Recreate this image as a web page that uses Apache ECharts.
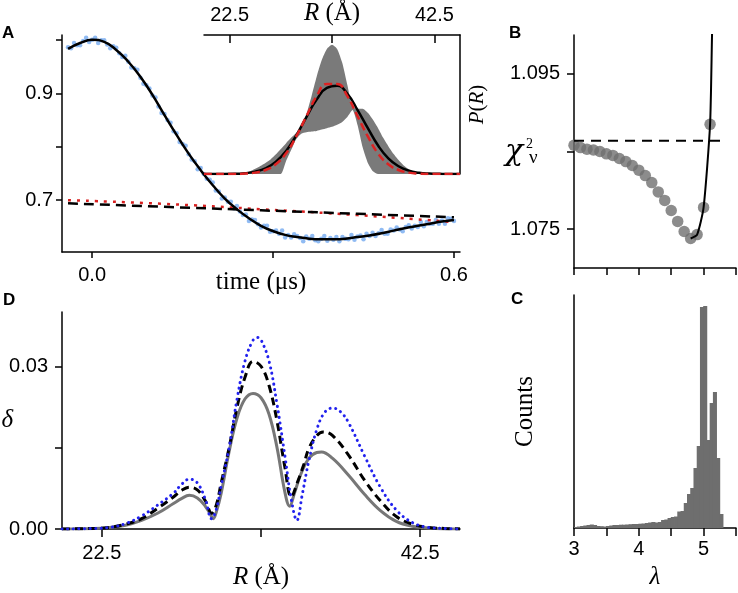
<!DOCTYPE html>
<html>
<head>
<meta charset="utf-8">
<script src="https://cdn.jsdelivr.net/npm/echarts@6/dist/echarts.min.js"></script>
<style>
html, body { margin: 0; padding: 0; background: #fff; }
#main { width: 738px; height: 593px; }
</style>
</head>
<body>
<div id="main"></div>
<script>
// fonts
const sans = "'Liberation Sans', Arial, sans-serif";
const serif = "'Liberation Serif', 'Times New Roman', serif";

// ---- panel A : time trace ----
const traceStart = -0.04, traceStep = 0.005;
const traceSignal = [
  0.986,0.984,0.994,0.990,0.990,0.998,1.004,0.996,1.000,1.004,
  0.994,0.999,0.999,0.991,0.984,0.988,0.985,0.975,0.968,0.970,
  0.959,0.948,0.947,0.944,0.929,0.918,0.915,0.909,0.896,0.892,
  0.875,0.863,0.861,0.850,0.845,0.829,0.825,0.809,0.805,0.802,
  0.786,0.776,0.773,0.758,0.760,0.749,0.740,0.738,0.733,0.718,
  0.716,0.703,0.705,0.697,0.697,0.685,0.689,0.679,0.672,0.673,
  0.661,0.664,0.663,0.655,0.649,0.652,0.652,0.641,0.642,0.643,
  0.637,0.643,0.630,0.635,0.630,0.636,0.633,0.629,0.623,0.632,
  0.628,0.633,0.625,0.623,0.628,0.633,0.624,0.629,0.626,0.631,
  0.623,0.631,0.628,0.627,0.635,0.626,0.632,0.634,0.627,0.637,
  0.633,0.639,0.633,0.638,0.644,0.637,0.637,0.645,0.643,0.649,
  0.645,0.642,0.650,0.653,0.647,0.652,0.650,0.659,0.651,0.659,
  0.656,0.656,0.663,0.656,0.662,0.656,0.666,0.665,0.661
];
const fitStart = -0.04, fitStep = 0.02;
const fitSignal = [0.983,0.994,1.000,0.996,0.981,0.959,0.931,0.897,0.859,0.822,0.787,
  0.756,0.728,0.703,0.683,0.666,0.652,0.642,0.635,0.631,0.628,0.627,0.627,0.628,0.631,
  0.634,0.638,0.643,0.648,0.652,0.656,0.660,0.663];
const bgTime = [-0.04, 0.12, 0.28, 0.44, 0.60];
const bgBlack = [0.694, 0.6875, 0.681, 0.6745, 0.668];
const bgRed = [0.700, 0.693, 0.683, 0.672, 0.659];

// ---- inset : P(R) ----
const bandR0 = 20, bandStep = 0.5;
const bandUpper = [0,0,0,0,0,0,0,0.003,0.008,0.02, 0.037,0.058,0.08,0.105,0.14,0.18,0.22,0.26,0.295,0.33,
  0.43,0.56,0.70,0.82,0.90,0.93,0.90,0.80,0.64,0.48, 0.47,0.47,0.44,0.39,0.33,0.26,0.20,0.145,0.10,0.062,
  0.035,0.015,0.006,0.002,0,0,0,0,0,0, 0];
const bandLower = [0,0,0,0,0,0,0,0,0,0, 0,0,0,0,0,0,0.09,0.17,0.25,0.29,
  0.30,0.305,0.31,0.32,0.33,0.34,0.355,0.375,0.41,0.46, 0.35,0.19,0.08,0.02,0,0,0,0,0,0,
  0,0,0,0,0,0,0,0,0,0, 0];
const insetR = [20,21,22,23,24,25,26,27,28,29,30,31,32,33,34,35,36,37,38,39,40,41,42,43,44,45];
const insetFit = [0,0,0,0.001,0.006,0.017,0.04,0.087,0.164,0.276,0.41,0.535,0.62,0.635,0.577,0.46,0.33,0.205,0.113,0.056,0.024,0.009,0.003,0.001,0,0];
const insetModel = [0,0,0,0,0.003,0.01,0.029,0.07,0.147,0.27,0.415,0.56,0.648,0.648,0.56,0.415,0.27,0.147,0.07,0.029,0.01,0.003,0,0,0,0];

// ---- panel B : chi2 vs lambda ----
const lambdaPts = [3.0,3.1,3.2,3.3,3.4,3.5,3.6,3.7,3.8,3.9,4.0,4.1,4.2,4.3,4.4,4.5,4.6,4.7,4.8,4.9,5.0,5.1];
const chiPts = [1.0858,1.0855,1.0853,1.0852,1.0850,1.0847,1.0845,1.0841,1.0837,1.0832,1.0826,
  1.0819,1.0810,1.0798,1.0787,1.0774,1.0760,1.0747,1.0738,1.0743,1.0778,1.0885];
const chiLineLambda = [4.8, 4.9, 5.0, 5.1, 5.13, 5.145];
const chiLineVal = [1.0738, 1.0743, 1.0778, 1.0885, 1.100, 1.105];
const chiThreshold = 1.0864;
const thresholdLambda = [3.0, 5.3];

// ---- panel C : histogram of lambda ----
const binStart = 3.0, binWidth = 0.05;
const lambdaCounts = [1,1.5,2,2.5,3,3.5,3,2,1.8,1.5, 2,2.5,3,3,3.3,3.3,3.5,3.8,4,4,
  4.3,4.5,5,5.5,6,5.5,6,8,8.5,10, 11,11.5,16.5,17,25,34,40,60,82,221,
  222,88,125,136,70,14,0,0,0,0];

// ---- panel D : delta(R) ----
const grayR = [20,22,23,24,25,26,27,27.5,28,28.5,29,29.3,29.5,29.7,30,30.5,31,31.5,32,32.5,33,33.5,34,34.3,34.6,35,35.5,36,36.3,37,38,39,40,41,42,43,44,45];
const grayDelta = [0,0.0001,0.0003,0.0007,0.0016,0.0029,0.0047,0.0056,0.0062,0.0057,0.0042,0.0028,0.0019,0.0032,
  0.0066,0.0143,0.0205,0.0240,0.0250,0.0242,0.0212,0.0151,0.0068,0.0042,0.0066,0.0101,0.0130,0.0141,0.0142,
  0.0130,0.0099,0.0064,0.0034,0.0014,0.0005,0.0002,0,0];
const dashR = [20,22,23,24,25,26,27,27.5,28,28.5,29,29.4,29.7,30,30.5,31,31.5,32,32.5,33,33.5,34,34.4,34.8,35.2,35.5,36,36.4,37,38,39,40,41,42,43,44,45];
const dashDelta = [0,0.0001,0.0003,0.0009,0.0019,0.0038,0.0059,0.0071,0.0077,0.0072,0.0052,0.0029,0.0045,
  0.0085,0.0150,0.0225,0.0280,0.0309,0.0300,0.0265,0.0200,0.0114,0.0059,0.0087,0.0120,0.0148,0.0172,0.0179,
  0.0172,0.0136,0.0090,0.0052,0.0023,0.0009,0.0003,0.0001,0];
const dotR = [20,22,23,24,25,26,27,27.5,28,28.5,29,29.4,29.7,30,30.5,31,31.5,32,32.3,32.5,33,33.5,34,34.4,34.75,35.1,35.5,36,36.5,37,37.5,38,39,40,41,42,43,44,45];
const dotDelta = [0,0.0001,0.0003,0.001,0.0024,0.0044,0.0066,0.0082,0.0092,0.0085,0.0055,0.0019,0.0037,
  0.0080,0.0150,0.0240,0.0310,0.0348,0.0353,0.0349,0.0310,0.0231,0.0135,0.0055,0.0016,0.0065,0.0125,0.0183,0.0215,
  0.0223,0.0216,0.0196,0.0135,0.0077,0.0035,0.0012,0.0003,0.0001,0];

function pairs(xs, ys) {
  return ys.map((y, i) => [xs[i], y]);
}
function gridded(x0, dx, ys) {
  return ys.map((y, i) => [+(x0 + i * dx).toFixed(4), y]);
}

var binNames = lambdaCounts.map((c, i) => (binStart + (i + 0.5) * binWidth).toFixed(3));

var lineCol = { color: '#000', width: 1.5 };
var labelBase = { color: '#000', fontSize: 20, fontFamily: sans, hideOverlap: false };
var nameBase = {
  color: '#000', fontSize: 25, fontFamily: serif,
  rich: { i: { color: '#000', fontSize: 25, fontFamily: serif, fontStyle: 'italic' } }
};
function txt(x, y, text, font) {
  return { type: 'text', x: x, y: y, style: { text: text, font: font, fill: '#000',
    align: 'left', verticalAlign: 'middle', textAlign: 'left', textVerticalAlign: 'middle' } };
}

var myChart = echarts.init(document.getElementById('main'), null, { renderer: 'canvas' });

var option = {
  animation: false,
  backgroundColor: '#fff',
  grid: [
    { left: 62, top: 35, width: 398, height: 217, containLabel: false, outerBoundsMode: 'none' },   // A
    { left: 204, top: 35, width: 256, height: 139, containLabel: false, outerBoundsMode: 'none' },  // inset
    { left: 574, top: 35, width: 162, height: 233, containLabel: false, outerBoundsMode: 'none' },  // B
    { left: 574, top: 295, width: 162, height: 233, containLabel: false, outerBoundsMode: 'none' }, // C
    { left: 62, top: 312, width: 398, height: 217, containLabel: false, outerBoundsMode: 'none' }   // D
  ],
  xAxis: [
    {
      gridIndex: 0, type: 'value', min: -0.05, max: 0.61,
      axisLine: { onZero: false, lineStyle: lineCol },
      axisTick: { length: 6, customValues: [0, 0.3, 0.6], lineStyle: lineCol },
      axisLabel: Object.assign({ customValues: [0, 0.6], margin: 13, formatter: v => v.toFixed(1),
        alignMinLabel: 'center', alignMaxLabel: 'center' }, labelBase),
      splitLine: { show: false },
      name: 'time (μs)', nameLocation: 'middle', nameGap: 18, nameMoveOverlap: false, nameTextStyle: nameBase
    },
    {
      gridIndex: 1, type: 'value', position: 'top', min: 20, max: 45,
      axisLine: { onZero: false, lineStyle: lineCol },
      axisTick: { inside: true, length: 8, customValues: [22.5, 32.5, 42.5], lineStyle: lineCol },
      axisLabel: Object.assign({ customValues: [22.5, 42.5], margin: 10, formatter: v => v.toFixed(1),
        alignMinLabel: 'center', alignMaxLabel: 'center' }, labelBase),
      splitLine: { show: false },
      name: '{i|R} (Å)', nameLocation: 'middle', nameGap: 9, nameMoveOverlap: false, nameTextStyle: nameBase
    },
    {
      gridIndex: 2, type: 'value', min: 3, max: 5.5, interval: 0.5,
      axisLine: { onZero: false, lineStyle: lineCol },
      axisTick: { length: 7, lineStyle: lineCol },
      axisLabel: { show: false },
      splitLine: { show: false }
    },
    {
      gridIndex: 3, type: 'value', min: 3, max: 5.5, interval: 0.5,
      axisLine: { onZero: false, lineStyle: lineCol },
      axisTick: { length: 8, lineStyle: lineCol },
      axisLabel: Object.assign({ customValues: [3, 4, 5], margin: 11,
        alignMinLabel: 'center', alignMaxLabel: 'center' }, labelBase),
      splitLine: { show: false },
      name: '{i|λ}', nameLocation: 'middle', nameGap: 37, nameMoveOverlap: false, nameTextStyle: nameBase
    },
    {
      gridIndex: 3, type: 'category', show: false, data: binNames, boundaryGap: true
    },
    {
      gridIndex: 4, type: 'value', min: 20, max: 45,
      axisLine: { onZero: false, lineStyle: lineCol },
      axisTick: { length: 8, customValues: [22.5, 32.5, 42.5], lineStyle: lineCol },
      axisLabel: Object.assign({ customValues: [22.5, 42.5], margin: 14, formatter: v => v.toFixed(1),
        alignMinLabel: 'center', alignMaxLabel: 'center' }, labelBase),
      splitLine: { show: false },
      name: '{i|R} (Å)', nameLocation: 'middle', nameGap: 36, nameMoveOverlap: false, nameTextStyle: nameBase
    }
  ],
  yAxis: [
    {
      gridIndex: 0, type: 'value', min: 0.603, max: 1.009,
      axisLine: { onZero: false, lineStyle: lineCol },
      axisTick: { length: 6, customValues: [0.7, 0.8, 0.9, 1.0], lineStyle: lineCol },
      axisLabel: Object.assign({ customValues: [0.7, 0.9], margin: 9, formatter: v => v.toFixed(1) }, labelBase),
      splitLine: { show: false }
    },
    {
      gridIndex: 1, type: 'value', position: 'right', min: 0, max: 1,
      axisLine: { show: true, onZero: false, lineStyle: lineCol },
      axisTick: { show: false }, axisLabel: { show: false },
      splitLine: { show: false },
      name: '{i|P}({i|R})', nameLocation: 'middle', nameRotate: 90, nameGap: 7, nameMoveOverlap: false,
      nameTextStyle: Object.assign({}, nameBase, { fontSize: 21, rich: { i: { color: '#000', fontSize: 21, fontFamily: serif, fontStyle: 'italic' } } })
    },
    {
      gridIndex: 2, type: 'value', min: 1.07, max: 1.1,
      axisLine: { onZero: false, lineStyle: lineCol },
      axisTick: { length: 7, customValues: [1.075, 1.085, 1.095], lineStyle: lineCol },
      axisLabel: Object.assign({ customValues: [1.075, 1.095], margin: 14, formatter: v => v.toFixed(3) }, labelBase),
      splitLine: { show: false }
    },
    {
      gridIndex: 3, type: 'value', min: 0, max: 233,
      axisLine: { show: true, onZero: false, lineStyle: lineCol },
      axisTick: { show: false }, axisLabel: { show: false },
      splitLine: { show: false },
      name: 'Counts', nameLocation: 'middle', nameRotate: 90, nameGap: 36, nameMoveOverlap: false, nameTextStyle: nameBase
    },
    {
      gridIndex: 4, type: 'value', min: 0, max: 0.04,
      axisLine: { onZero: false, lineStyle: lineCol },
      axisTick: { length: 7, customValues: [0, 0.015, 0.03], lineStyle: lineCol },
      axisLabel: Object.assign({ customValues: [0, 0.03], margin: 14, formatter: v => v.toFixed(2) }, labelBase),
      splitLine: { show: false },
      name: '{i|δ}', nameLocation: 'middle', nameRotate: 0, nameGap: 49, nameMoveOverlap: false, nameTextStyle: nameBase
    }
  ],
  graphic: [
    txt(2, 33, 'A', 'bold 17px ' + sans),
    txt(509, 33, 'B', 'bold 17px ' + sans),
    txt(511, 299, 'C', 'bold 17px ' + sans),
    txt(3, 300, 'D', 'bold 17px ' + sans),
    txt(505, 152, 'χ', "italic 30px 'DejaVu Serif', serif"),
    txt(526, 144, '2', '14px ' + serif),
    txt(529, 158, 'ν', '19px ' + serif)
  ],
  series: [
    // A
    {
      type: 'scatter', xAxisIndex: 0, yAxisIndex: 0, symbolSize: 4.5,
      itemStyle: { color: '#74aaf0' },
      data: gridded(traceStart, traceStep, traceSignal)
    },
    {
      type: 'line', xAxisIndex: 0, yAxisIndex: 0, showSymbol: false, smooth: true,
      lineStyle: { color: '#d82020', width: 2.5, type: [3, 6] },
      data: pairs(bgTime, bgRed)
    },
    {
      type: 'line', xAxisIndex: 0, yAxisIndex: 0, showSymbol: false, smooth: true,
      lineStyle: { color: '#000', width: 2.5, type: [10, 6] },
      data: pairs(bgTime, bgBlack)
    },
    {
      type: 'line', xAxisIndex: 0, yAxisIndex: 0, showSymbol: false, smooth: true,
      lineStyle: { color: '#000', width: 2.5 },
      data: gridded(fitStart, fitStep, fitSignal)
    },
    // inset
    {
      type: 'line', xAxisIndex: 1, yAxisIndex: 1, showSymbol: false, smooth: 0.2,
      lineStyle: { width: 0 }, areaStyle: { color: '#7a7a7a', opacity: 1 },
      data: gridded(bandR0, bandStep, bandUpper)
    },
    {
      type: 'line', xAxisIndex: 1, yAxisIndex: 1, showSymbol: false, smooth: 0.2,
      lineStyle: { width: 0 }, areaStyle: { color: '#fff', opacity: 1 },
      data: gridded(bandR0, bandStep, bandLower)
    },
    {
      type: 'line', xAxisIndex: 1, yAxisIndex: 1, showSymbol: false, smooth: true,
      lineStyle: { color: '#000', width: 2.5 },
      data: pairs(insetR, insetFit)
    },
    {
      type: 'line', xAxisIndex: 1, yAxisIndex: 1, showSymbol: false, smooth: true,
      lineStyle: { color: '#dd2222', width: 2.5, type: [8, 4] },
      data: pairs(insetR, insetModel)
    },
    // B
    {
      type: 'line', xAxisIndex: 2, yAxisIndex: 2, showSymbol: false,
      lineStyle: { color: '#000', width: 2, type: [10, 7] },
      data: thresholdLambda.map(l => [l, chiThreshold])
    },
    {
      type: 'scatter', xAxisIndex: 2, yAxisIndex: 2, symbolSize: 11.5,
      itemStyle: { color: '#6f6f6f' },
      data: pairs(lambdaPts, chiPts)
    },
    {
      type: 'line', xAxisIndex: 2, yAxisIndex: 2, showSymbol: false, smooth: 0.2,
      lineStyle: { color: '#000', width: 2 },
      data: pairs(chiLineLambda, chiLineVal)
    },
    // C
    {
      type: 'bar', xAxisIndex: 4, yAxisIndex: 3, barWidth: '125%',
      itemStyle: { color: '#6e6e6e' },
      data: lambdaCounts
    },
    // D
    {
      type: 'line', xAxisIndex: 5, yAxisIndex: 4, showSymbol: false, smooth: 0.4,
      lineStyle: { color: '#777', width: 3 },
      data: pairs(grayR, grayDelta)
    },
    {
      type: 'line', xAxisIndex: 5, yAxisIndex: 4, showSymbol: false, smooth: 0.4,
      lineStyle: { color: '#000', width: 3, type: [8, 5] },
      data: pairs(dashR, dashDelta)
    },
    {
      type: 'line', xAxisIndex: 5, yAxisIndex: 4, showSymbol: false, smooth: 0.4,
      lineStyle: { color: '#2222ee', width: 3, type: [0.1, 5.5], cap: 'round' },
      data: pairs(dotR, dotDelta)
    }
  ]
};

myChart.setOption(option);
</script>
</body>
</html>
